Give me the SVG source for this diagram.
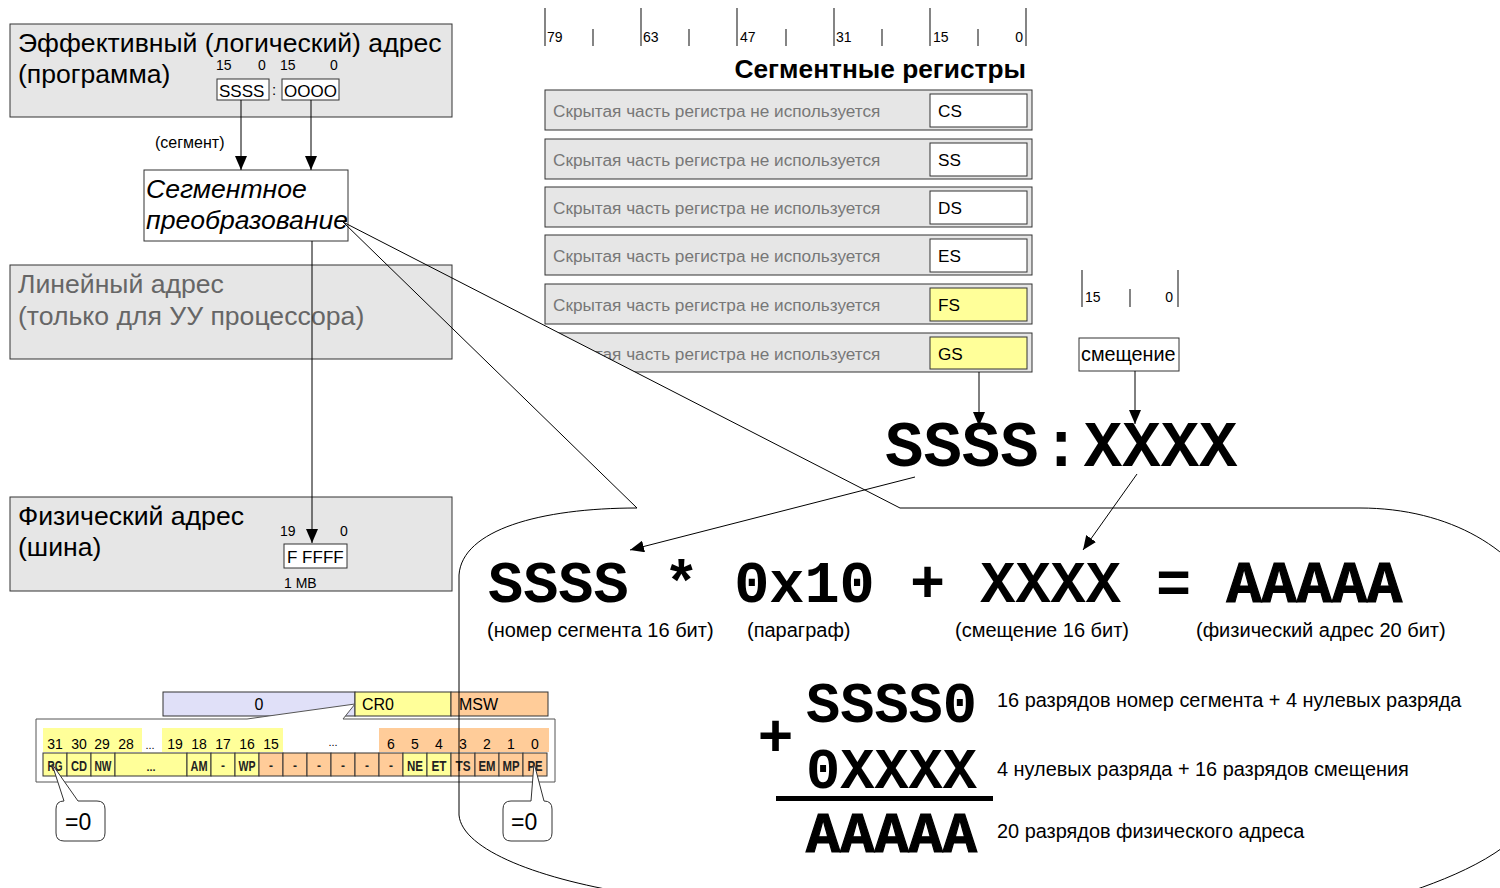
<svg xmlns="http://www.w3.org/2000/svg" width="1500" height="888" viewBox="0 0 1500 888">
<defs>
<marker id="arr" viewBox="0 0 14 12" refX="14" refY="6" markerWidth="14" markerHeight="12" markerUnits="userSpaceOnUse" orient="auto"><path d="M0,0 L14,6 L0,12 Z" fill="#000"/></marker>
<style>
.box{fill:#e6e6e6;stroke:#333;stroke-width:1}
.wb{fill:#fff;stroke:#333;stroke-width:1}
.yb{fill:#ffff99;stroke:#333;stroke-width:1}
.ob{fill:#ffcc99;stroke:#333;stroke-width:1}
.lb{fill:#e0e0f8;stroke:#333;stroke-width:1}
.s{font-family:"Liberation Sans",Arial,sans-serif;fill:#000}
.m{font-family:"Liberation Mono","Courier New",monospace;font-weight:bold;fill:#000}
.gray{fill:#777}
.big{font-size:26.6px}
.reg{font-size:17.2px}
.sm{font-size:14px}
.cap{font-size:20px}
.cell{font-family:"Liberation Sans",Arial,sans-serif;font-weight:bold;font-size:14px;text-anchor:middle;fill:#222}
.num{font-family:"Liberation Sans",Arial,sans-serif;font-size:14px;text-anchor:middle}
.ln{stroke:#000;stroke-width:1;fill:none}
.tk{stroke:#333;stroke-width:1.2}
.bubble{stroke:#000;stroke-width:1}
</style>
</defs>
<rect width="1500" height="888" fill="#fff"/>

<!-- Register ruler -->
<g id="reg-ruler">
<g class="tk">
<line x1="545" y1="8" x2="545" y2="46"/><line x1="641" y1="8" x2="641" y2="46"/><line x1="737" y1="8" x2="737" y2="46"/><line x1="834" y1="8" x2="834" y2="46"/><line x1="930" y1="8" x2="930" y2="46"/><line x1="1026" y1="8" x2="1026" y2="46"/>
<line x1="593" y1="29" x2="593" y2="46"/><line x1="689" y1="29" x2="689" y2="46"/><line x1="786" y1="29" x2="786" y2="46"/><line x1="882" y1="29" x2="882" y2="46"/><line x1="978" y1="29" x2="978" y2="46"/>
</g>
<g class="s sm">
<text x="547" y="42">79</text><text x="643" y="42">63</text><text x="740" y="42">47</text><text x="836" y="42">31</text><text x="933" y="42">15</text><text x="1023" y="42" text-anchor="end">0</text>
</g>
<text class="s" x="1026" y="78" font-size="26.3" font-weight="bold" text-anchor="end">Сегментные регистры</text>
</g>

<!-- Registers -->
<g id="reg-CS"><rect class="box" x="545" y="90" width="487" height="40"/><text class="s reg gray" x="553" y="117">Скрытая часть регистра не используется</text><rect class="wb" x="930" y="94" width="97" height="33"/><text class="s reg" x="938" y="117">CS</text></g>
<g id="reg-SS"><rect class="box" x="545" y="139" width="487" height="40"/><text class="s reg gray" x="553" y="166">Скрытая часть регистра не используется</text><rect class="wb" x="930" y="143" width="97" height="33"/><text class="s reg" x="938" y="166">SS</text></g>
<g id="reg-DS"><rect class="box" x="545" y="187" width="487" height="40"/><text class="s reg gray" x="553" y="214">Скрытая часть регистра не используется</text><rect class="wb" x="930" y="191" width="97" height="33"/><text class="s reg" x="938" y="214">DS</text></g>
<g id="reg-ES"><rect class="box" x="545" y="235" width="487" height="40"/><text class="s reg gray" x="553" y="262">Скрытая часть регистра не используется</text><rect class="wb" x="930" y="239" width="97" height="33"/><text class="s reg" x="938" y="262">ES</text></g>
<g id="reg-FS"><rect class="box" x="545" y="284" width="487" height="40"/><text class="s reg gray" x="553" y="311">Скрытая часть регистра не используется</text><rect class="yb" x="930" y="288" width="97" height="33"/><text class="s reg" x="938" y="311">FS</text></g>
<g id="reg-GS"><rect class="box" x="545" y="333" width="487" height="39"/><text class="s reg gray" x="553" y="360">Скрытая часть регистра не используется</text><rect class="yb" x="930" y="337" width="97" height="32"/><text class="s reg" x="938" y="360">GS</text></g>

<!-- Callout bubble fill -->
<path id="bubble-fill" d="M343,222 L900,508 L1360,508 C1450,508 1520,550 1545,610 L1545,800 C1520,850 1460,875 1400,895 L640,895 C540,880 462,850 459,815 L459,575 C462,530 540,508 637,508 Z" fill="#fff" stroke="none"/>

<!-- Offset -->
<g id="offset">
<g class="tk"><line x1="1082" y1="270" x2="1082" y2="307"/><line x1="1178" y1="270" x2="1178" y2="307"/><line x1="1130" y1="289" x2="1130" y2="307"/></g>
<text class="s sm" x="1085" y="302">15</text><text class="s sm" x="1173" y="302" text-anchor="end">0</text>
<rect class="wb" x="1079" y="338" width="100" height="33"/>
<text class="s" x="1081" y="361" font-size="19.8">смещение</text>
</g>

<!-- Left boxes -->
<g id="logical">
<rect class="box" x="10" y="24" width="442" height="93"/>
<text class="s big" x="18" y="52">Эффективный (логический) адрес</text>
<text class="s big" x="18" y="83">(программа)</text>
<g class="s sm"><text x="216" y="70">15</text><text x="258" y="70">0</text><text x="280" y="70">15</text><text x="330" y="70">0</text></g>
<rect class="wb" x="217" y="79" width="52" height="21"/><text class="s" x="219" y="97" font-size="17">SSSS</text>
<text class="s" x="272" y="95" font-size="15">:</text>
<rect class="wb" x="282" y="79" width="57" height="21"/><text class="s" x="284" y="97" font-size="17">OOOO</text>
</g>
<text class="s" x="155" y="148" font-size="16">(сегмент)</text>
<g id="segtrans">
<rect class="wb" x="144" y="170" width="204" height="71"/>
<text class="s big" x="146" y="198" font-style="italic">Сегментное</text>
<text class="s big" x="146" y="229" font-style="italic">преобразование</text>
</g>
<g id="linear">
<rect class="box" x="10" y="265" width="442" height="94"/>
<text class="s big" x="18" y="293" style="fill:#666">Линейный адрес</text>
<text class="s big" x="18" y="325" style="fill:#666">(только для УУ процессора)</text>
</g>
<g id="physical">
<rect class="box" x="10" y="497" width="442" height="94"/>
<text class="s big" x="18" y="525">Физический адрес</text>
<text class="s big" x="18" y="556">(шина)</text>
<g class="s sm"><text x="280" y="536">19</text><text x="340" y="536">0</text></g>
<rect class="wb" x="284" y="544" width="63" height="24"/><text class="s" x="287" y="563" font-size="17">F FFFF</text>
<text class="s sm" x="284" y="588">1 MB</text>
</g>

<!-- CR0 -->
<g id="cr0">
<rect class="lb" x="163" y="692" width="192" height="24"/><text class="s" x="259" y="710" font-size="16" text-anchor="middle">0</text>
<rect class="yb" x="355" y="692" width="96" height="24"/><text class="s" x="362" y="710" font-size="16">CR0</text>
<rect class="ob" x="451" y="692" width="97" height="24"/><text class="s" x="459" y="710" font-size="16">MSW</text>
<path d="M36,719 L247,719 L355,704 L343,719 L555,719 L555,782 L36,782 Z" fill="#fff" stroke="#555"/>
<rect x="43" y="728" width="99" height="24" fill="#ffff99"/>
<rect x="162" y="728" width="121" height="24" fill="#ffff99"/>
<rect x="379" y="728" width="170" height="24" fill="#ffcc99"/>
<g class="num">
<text x="55" y="749">31</text><text x="79" y="749">30</text><text x="102" y="749">29</text><text x="126" y="749">28</text><text x="150" y="749" font-size="11">...</text><text x="175" y="749">19</text><text x="199" y="749">18</text><text x="223" y="749">17</text><text x="247" y="749">16</text><text x="271" y="749">15</text><text x="333" y="746" font-size="11">...</text><text x="391" y="749">6</text><text x="415" y="749">5</text><text x="439" y="749">4</text><text x="463" y="749">3</text><text x="487" y="749">2</text><text x="511" y="749">1</text><text x="535" y="749">0</text>
</g>
<rect class="yb" x="43" y="753" width="24" height="23"/><rect class="yb" x="67" y="753" width="24" height="23"/><rect class="yb" x="91" y="753" width="24" height="23"/><rect class="yb" x="115" y="753" width="72" height="23"/><rect class="yb" x="187" y="753" width="24" height="23"/><rect class="yb" x="211" y="753" width="24" height="23"/><rect class="yb" x="235" y="753" width="24" height="23"/>
<rect class="ob" x="259" y="753" width="24" height="23"/><rect class="ob" x="283" y="753" width="24" height="23"/><rect class="ob" x="307" y="753" width="24" height="23"/><rect class="ob" x="331" y="753" width="24" height="23"/><rect class="ob" x="355" y="753" width="24" height="23"/><rect class="ob" x="379" y="753" width="24" height="23"/>
<rect class="yb" x="403" y="753" width="24" height="23"/><rect class="yb" x="427" y="753" width="24" height="23"/>
<rect class="ob" x="451" y="753" width="24" height="23"/><rect class="ob" x="475" y="753" width="24" height="23"/><rect class="ob" x="499" y="753" width="24" height="23"/><rect class="ob" x="523" y="753" width="24" height="23"/>
<g class="cell">
<text x="55" y="771" textLength="15" lengthAdjust="spacingAndGlyphs">RG</text><text x="79" y="771" textLength="16" lengthAdjust="spacingAndGlyphs">CD</text><text x="103" y="771" textLength="17" lengthAdjust="spacingAndGlyphs">NW</text><text x="151" y="771" font-size="11">...</text><text x="199" y="771" textLength="17" lengthAdjust="spacingAndGlyphs">AM</text><text x="223" y="770" font-size="12">-</text><text x="247" y="771" textLength="17" lengthAdjust="spacingAndGlyphs">WP</text>
<g font-size="12"><text x="271" y="770">-</text><text x="295" y="770">-</text><text x="319" y="770">-</text><text x="343" y="770">-</text><text x="367" y="770">-</text><text x="391" y="770">-</text></g>
<text x="415" y="771" textLength="16" lengthAdjust="spacingAndGlyphs">NE</text><text x="439" y="771" textLength="15" lengthAdjust="spacingAndGlyphs">ET</text><text x="463" y="771" textLength="15" lengthAdjust="spacingAndGlyphs">TS</text><text x="487" y="771" textLength="17" lengthAdjust="spacingAndGlyphs">EM</text><text x="511" y="771" textLength="17" lengthAdjust="spacingAndGlyphs">MP</text><text x="535" y="771" textLength="15" lengthAdjust="spacingAndGlyphs">PE</text>
</g>
</g>
<g id="zero-left">
<path d="M64,801 L52,764 L78,801 L97,801 Q105,801 105,809 L105,833 Q105,841 97,841 L64,841 Q56,841 56,833 L56,809 Q56,801 64,801 Z" fill="#fff" stroke="#333"/>
<text class="s" x="65" y="830" font-size="23">=0</text>
</g>
<g id="zero-right">
<path d="M511,801 L531,801 L534,763 L544,801 Q552,801 552,809 L552,833 Q552,841 544,841 L511,841 Q503,841 503,833 L503,809 Q503,801 511,801 Z" fill="#fff" stroke="#333"/>
<text class="s" x="511" y="830" font-size="23">=0</text>
</g>

<!-- Formula -->
<g id="segoff">
<text class="m" x="885" y="466" font-size="64" word-spacing="-35">SSSS : XXXX</text>
</g>
<g id="formula">
<text class="m" x="488" y="602" font-size="58.6">SSSS * 0x10 + XXXX = <tspan stroke="#000" stroke-width="1.2">AAAAA</tspan></text>
<g class="s cap">
<text x="487" y="637">(номер сегмента 16 бит)</text>
<text x="747" y="637">(параграф)</text>
<text x="955" y="637">(смещение 16 бит)</text>
<text x="1196" y="637">(физический адрес 20 бит)</text>
</g>
</g>
<g id="sum">
<text class="s" x="758" y="756" font-size="60" font-weight="bold">+</text>
<text class="m" x="806" y="722" font-size="57">SSSS0</text>
<text class="m" x="806" y="788" font-size="57">0XXXX</text>
<rect x="776" y="796" width="217" height="5" fill="#000"/>
<text class="m" x="806" y="852" font-size="57" stroke="#000" stroke-width="1.2">AAAAA</text>
<g class="s" font-size="19.9">
<text x="997" y="707">16 разрядов номер сегмента + 4 нулевых разряда</text>
<text x="997" y="776">4 нулевых разряда + 16 разрядов смещения</text>
<text x="997" y="838">20 разрядов физического адреса</text>
</g>
</g>

<!-- Connectors -->
<g id="connectors" class="ln">
<line x1="241" y1="100" x2="241" y2="170" marker-end="url(#arr)"/>
<line x1="311" y1="100" x2="311" y2="170" marker-end="url(#arr)"/>
<line x1="312" y1="241" x2="312" y2="543" marker-end="url(#arr)"/>
<line x1="979" y1="372" x2="979" y2="426" marker-end="url(#arr)"/>
<line x1="1135" y1="371" x2="1135" y2="424" marker-end="url(#arr)"/>
<line x1="915" y1="477" x2="630" y2="550" marker-end="url(#arr)"/>
<line x1="1137" y1="474" x2="1083" y2="550" marker-end="url(#arr)"/>
</g>

<!-- Callout bubble outline -->
<path id="bubble-outline" class="bubble" fill="none" d="M343,222 L900,508 L1360,508 C1450,508 1520,550 1545,610 L1545,800 C1520,850 1460,875 1400,895 L640,895 C540,880 462,850 459,815 L459,575 C462,530 540,508 637,508 Z"/>
</svg>
